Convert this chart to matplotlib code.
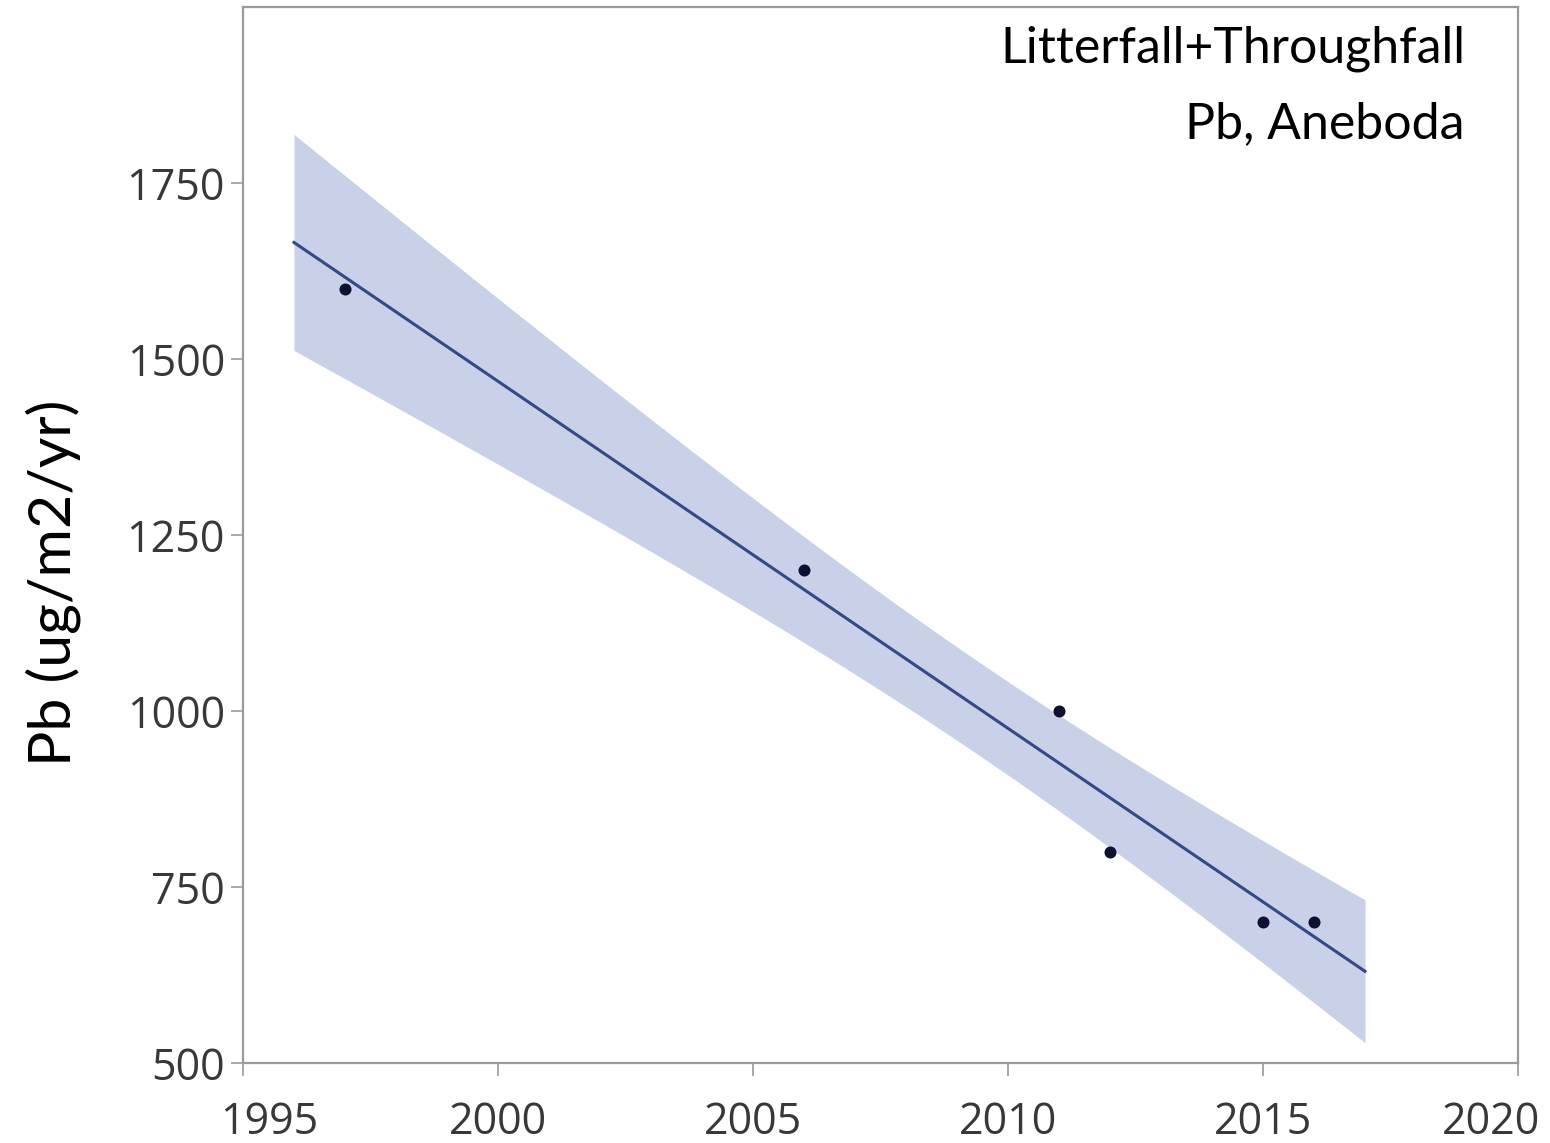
import numpy as np
import matplotlib
matplotlib.use("Agg")
import matplotlib.pyplot as plt
from matplotlib.transforms import ScaledTranslation

# Annual Pb deposition (litterfall + throughfall), Aneboda
years = np.array([1997, 2006, 2011, 2012, 2015, 2016])
pb_flux = np.array([1600, 1200, 1000, 800, 700, 700])

x_ticks = [1995, 2000, 2005, 2010, 2015, 2020]
y_ticks = [500, 750, 1000, 1250, 1500, 1750]
fit_range = (1996, 2017)

# Ordinary least squares fit with 95% confidence band of the mean
n = len(years)
slope, intercept = np.polyfit(years, pb_flux, 1)
resid = pb_flux - (slope * years + intercept)
s = np.sqrt(np.sum(resid ** 2) / (n - 2))
sxx = np.sum((years - years.mean()) ** 2)
t_crit = 2.776  # two-sided 95%, df = 4
xf = np.linspace(fit_range[0], fit_range[1], 200)
yf = slope * xf + intercept
half = t_crit * s * np.sqrt(1.0 / n + (xf - years.mean()) ** 2 / sxx)

fig = plt.figure(figsize=(15.5, 11.43), dpi=100)
ax = fig.add_axes([243 / 1550, 1 - 1063 / 1143, (1518 - 243) / 1550, (1063 - 7) / 1143])

ax.fill_between(xf, yf - half, yf + half, color="#c9d1e8", lw=0, zorder=1)
ax.plot(xf, yf, color="#34488a", lw=2.2, zorder=2)
ax.scatter(years, pb_flux, s=75, color="#0d1030", zorder=3, linewidths=0)

ax.set_xlim(1995, 2020)
ax.set_ylim(500, 2000)
ax.set_xticks(x_ticks)
ax.set_yticks(y_ticks)

tick_font = dict(family=["Open Sans", "DejaVu Sans"], size=31, color="#383838")
ax.set_xticklabels([str(v) for v in x_ticks], **tick_font)
ax.set_yticklabels([str(v) for v in y_ticks], **tick_font)

for sp in ax.spines.values():
    sp.set_color("#9a9a9a")
    sp.set_linewidth(1.6)
ax.tick_params(axis="both", direction="out", length=9, width=1.2, color="#9a9a9a")
ax.tick_params(axis="x", pad=18)
ax.tick_params(axis="y", pad=4)

# keep the outermost year labels inside the frame
xlabels = ax.get_xticklabels()
xlabels[0].set_transform(xlabels[0].get_transform() + ScaledTranslation(26 / 100, 0, fig.dpi_scale_trans))
xlabels[-1].set_transform(xlabels[-1].get_transform() + ScaledTranslation(-27 / 100, 0, fig.dpi_scale_trans))

ax.set_ylabel("Pb (ug/m2/yr)", family=["Lato", "DejaVu Sans"], size=42.5, color="black")
ax.yaxis.set_label_coords(-0.127, 0.4545)

label_font = dict(family=["Lato", "DejaVu Sans"], size=36, color="black")
ax.text(0.9584, 0.947, "Litterfall+Throughfall", transform=ax.transAxes,
        ha="right", va="baseline", **label_font)
ax.text(0.9584, 0.876, "Pb, Aneboda", transform=ax.transAxes,
        ha="right", va="baseline", **label_font)

fig.savefig("out.png", dpi=100, facecolor="white")
